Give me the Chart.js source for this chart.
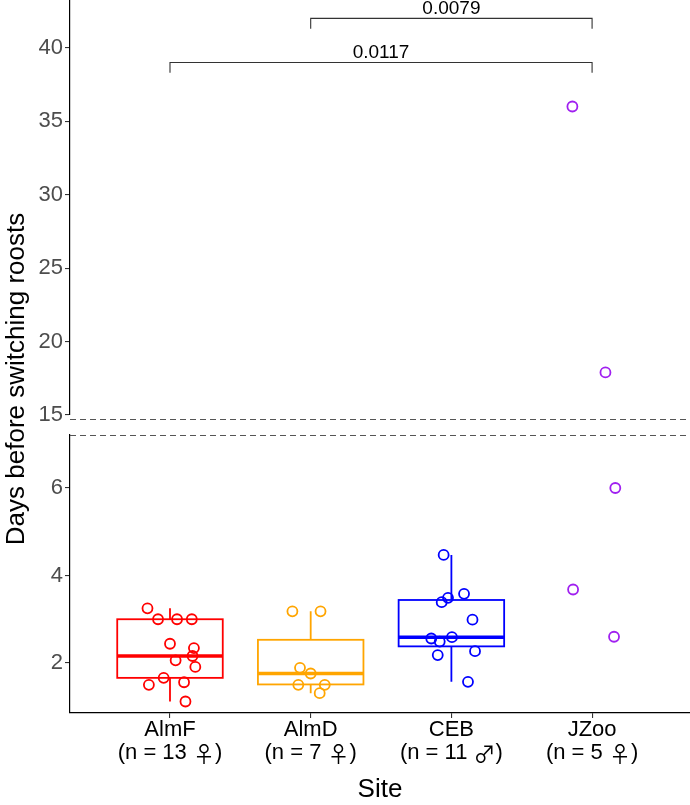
<!DOCTYPE html>
<html>
<head>
<meta charset="utf-8">
<title>Days before switching roosts</title>
<script src="https://cdn.jsdelivr.net/npm/chart.js@4.4.1/dist/chart.umd.min.js"></script>
<style>
  html, body { margin: 0; padding: 0; background: #fff; }
  #wrap { position: relative; width: 690px; height: 805px; }
  #wrap canvas { position: absolute; left: 0; top: 0; }
</style>
</head>
<body>
<div id="wrap">
  <canvas id="lowerPanel" width="690" height="805"></canvas>
  <canvas id="upperPanel" width="690" height="805"></canvas>
</div>
<script>
// ── Data ──────────────────────────────────────────────────────
const sites      = ['AlmF', 'AlmD', 'CEB', 'JZoo'];
const siteN      = [13, 7, 11, 5];
const siteSex    = ['\u2640', '\u2640', '\u2642', '\u2640'];

// days per individual, and the horizontal jitter (category units) seen in the plot
const almfDays   = [3.25, 3.0, 3.0, 3.0, 2.44, 2.34, 2.16, 2.06, 1.91, 1.66, 1.50, 1.56, 1.12];
const almfJitter = [-0.16, -0.085, 0.05, 0.155, 0.0, 0.17, 0.16, 0.04, 0.18, -0.045, -0.15, 0.10, 0.11];
const almdDays   = [3.18, 3.18, 1.89, 1.76, 1.50, 1.50, 1.31];
const almdJitter = [-0.13, 0.07, -0.076, 0.0, -0.088, 0.10, 0.064];
const cebDays    = [4.47, 3.58, 3.49, 3.39, 2.99, 2.59, 2.56, 2.49, 2.27, 2.18, 1.57];
const cebJitter  = [-0.055, 0.09, -0.024, -0.069, 0.15, 0.004, -0.143, -0.083, 0.168, -0.097, 0.118];
const jzooDays   = [36.0, 17.9, 6.0, 3.68, 2.6];
const jzooJitter = [-0.14, 0.095, 0.165, -0.135, 0.156];

// box plot summaries (JZoo has none)
const boxMin    = [1.12, 1.31, 1.57, null];
const boxQ1     = [1.66, 1.51, 2.38, null];
const boxMedian = [2.16, 1.76, 2.59, null];
const boxQ3     = [3.00, 2.53, 3.44, null];
const boxMax    = [3.25, 3.18, 4.47, null];

// pairwise comparisons
const bracketFrom = [1, 0];
const bracketTo   = [3, 3];
const bracketY    = [42, 39];
const bracketP    = ['0.0079', '0.0117'];

// axis ticks
const upperTicks = [15, 20, 25, 30, 35, 40];
const lowerTicks = [2, 4, 6];
const siteTicks  = [0, 1, 2, 3];

// ── Styling ───────────────────────────────────────────────────
const siteColors = ['#FF0000', '#FFA500', '#0000FF', '#A020F0'];
const FONT       = '"Liberation Sans", Arial, Helvetica, sans-serif';
const SYM_FONT   = '"Noto Sans CJK JP", "DejaVu Sans", sans-serif';
const BOX_WIDTH  = 0.75;
const TIP        = 0.7;

const X_RANGE     = { min: -0.7107, max: 3.6959 };
const UPPER_RANGE = { min: 15.0, max: 43.25 };
const LOWER_RANGE = { min: 0.857, max: 7.211 };

function points(days, jitter, idx) {
    return days.map((d, i) => ({ x: idx + jitter[i], y: d }));
}

function buildDatasets() {
    const groups = [
        [almfDays, almfJitter],
        [almdDays, almdJitter],
        [cebDays,  cebJitter],
        [jzooDays, jzooJitter]
    ];
    return groups.map(([days, jit], i) => ({
        label: sites[i],
        data: points(days, jit, i),
        pointStyle: 'circle',
        pointRadius: 5,
        pointBorderWidth: 1.8,
        borderColor: siteColors[i],
        backgroundColor: 'rgba(0,0,0,0)',
        showLine: false,
        clip: 8
    }));
}

function yAxis(range, ticks) {
    return {
        min: range.min,
        max: range.max,
        afterBuildTicks: s => { s.ticks = ticks.map(v => ({ value: v })); },
        afterFit: s => { s.width = 70; s.paddingTop = 0; s.paddingBottom = 0; },
        ticks: { color: '#4D4D4D', font: { family: FONT, size: 22 }, padding: 2 },
        grid: { display: true, drawOnChartArea: false, drawTicks: true, tickLength: 5, color: '#333', lineWidth: 1.1 },
        border: { display: true, color: '#000', width: 1.2 }
    };
}

// ── Plugins ───────────────────────────────────────────────────
const boxPlugin = {
    id: 'boxes',
    beforeDatasetsDraw(chart) {
        const { ctx, scales: { x, y } } = chart;
        ctx.save();
        boxQ1.forEach((q1, i) => {
            if (q1 == null) return;
            const cx    = x.getPixelForValue(i);
            const left  = x.getPixelForValue(i - BOX_WIDTH / 2);
            const right = x.getPixelForValue(i + BOX_WIDTH / 2);
            const yQ1 = y.getPixelForValue(q1);
            const yQ3 = y.getPixelForValue(boxQ3[i]);
            ctx.strokeStyle = siteColors[i];
            ctx.lineWidth = 1.8;
            // whiskers
            ctx.beginPath();
            ctx.moveTo(cx, yQ3); ctx.lineTo(cx, y.getPixelForValue(boxMax[i]));
            ctx.moveTo(cx, yQ1); ctx.lineTo(cx, y.getPixelForValue(boxMin[i]));
            ctx.stroke();
            // box
            ctx.strokeRect(left, yQ3, right - left, yQ1 - yQ3);
            // median
            const yMed = y.getPixelForValue(boxMedian[i]);
            ctx.lineWidth = 3.4;
            ctx.beginPath();
            ctx.moveTo(left, yMed); ctx.lineTo(right, yMed);
            ctx.stroke();
        });
        ctx.restore();
    }
};

// second line of the site labels: "(n = 13 ♀)" with the sex symbol from a thin symbol font
const countPlugin = {
    id: 'siteCounts',
    afterDraw(chart) {
        const { ctx, scales: { x }, chartArea: a } = chart;
        ctx.save();
        ctx.fillStyle = '#000';
        ctx.textBaseline = 'middle';
        ctx.textAlign = 'left';
        const yy = a.bottom + 40;
        siteTicks.forEach(i => {
            const head = '(n = ' + siteN[i] + ' ';
            ctx.font = '22px ' + FONT;
            const wHead = ctx.measureText(head).width;
            const wTail = ctx.measureText(')').width;
            ctx.font = '22px ' + SYM_FONT;
            const wSym = ctx.measureText(siteSex[i]).width;
            let cx = x.getPixelForValue(i) - (wHead + wSym + wTail) / 2;
            ctx.font = '22px ' + FONT;
            ctx.fillText(head, cx, yy);
            cx += wHead;
            ctx.font = '22px ' + SYM_FONT;
            ctx.fillText(siteSex[i], cx, yy + 1);
            cx += wSym;
            ctx.font = '22px ' + FONT;
            ctx.fillText(')', cx, yy);
        });
        ctx.restore();
    }
};

const bracketPlugin = {
    id: 'brackets',
    afterDatasetsDraw(chart) {
        const { ctx, scales: { x, y } } = chart;
        ctx.save();
        ctx.strokeStyle = '#333';
        ctx.lineWidth = 1.1;
        ctx.fillStyle = '#000';
        ctx.font = '19px ' + FONT;
        ctx.textAlign = 'center';
        ctx.textBaseline = 'alphabetic';
        bracketFrom.forEach((from, i) => {
            const x1 = x.getPixelForValue(from);
            const x2 = x.getPixelForValue(bracketTo[i]);
            const yl = y.getPixelForValue(bracketY[i]);
            const yt = y.getPixelForValue(bracketY[i] - TIP);
            ctx.beginPath();
            ctx.moveTo(x1, yt); ctx.lineTo(x1, yl); ctx.lineTo(x2, yl); ctx.lineTo(x2, yt);
            ctx.stroke();
            ctx.fillText(bracketP[i], (x1 + x2) / 2, yl - 4);
        });
        ctx.restore();
    }
};

// dashed break lines + the shared y title
const breakPlugin = {
    id: 'axisBreak',
    afterDraw(chart) {
        const { ctx, chartArea: a } = chart;
        ctx.save();
        ctx.strokeStyle = '#555';
        ctx.lineWidth = 1;
        ctx.setLineDash([6, 4]);
        [a.top - 16, a.top].forEach(yy => {
            ctx.beginPath();
            ctx.moveTo(a.left, yy + 0.5);
            ctx.lineTo(a.right, yy + 0.5);
            ctx.stroke();
        });
        ctx.setLineDash([]);
        ctx.fillStyle = '#000';
        ctx.font = '26px ' + FONT;
        ctx.textAlign = 'center';
        ctx.textBaseline = 'middle';
        ctx.translate(17, 379);
        ctx.rotate(-Math.PI / 2);
        ctx.fillText('Days before switching roosts', 0, 0);
        ctx.restore();
    }
};

// ── Charts ────────────────────────────────────────────────────
new Chart(document.getElementById('lowerPanel'), {
    type: 'scatter',
    data: { datasets: buildDatasets() },
    options: {
        responsive: false,
        animation: false,
        events: [],
        layout: { autoPadding: false, padding: { top: 435, left: 0, right: 0, bottom: 0 } },
        plugins: { legend: { display: false }, tooltip: { enabled: false } },
        scales: {
            x: {
                type: 'linear',
                min: X_RANGE.min,
                max: X_RANGE.max,
                afterBuildTicks: s => { s.ticks = siteTicks.map(v => ({ value: v })); },
                afterFit: s => { s.height = 92; s.paddingLeft = 0; s.paddingRight = 0; },
                ticks: {
                    color: '#000',
                    font: { family: FONT, size: 22, lineHeight: 1.12 },
                    padding: 0,
                    maxRotation: 0,
                    callback: v => sites[v]
                },
                title: { display: true, text: 'Site', color: '#000', font: { family: FONT, size: 26 }, padding: { top: 0, bottom: 0 } },
                grid: { display: true, drawOnChartArea: false, drawTicks: true, tickLength: 5, color: '#333', lineWidth: 1.1 },
                border: { display: true, color: '#000', width: 1.2 }
            },
            y: yAxis(LOWER_RANGE, lowerTicks)
        }
    },
    plugins: [boxPlugin, breakPlugin, countPlugin]
});

new Chart(document.getElementById('upperPanel'), {
    type: 'scatter',
    data: { datasets: buildDatasets() },
    options: {
        responsive: false,
        animation: false,
        events: [],
        layout: { autoPadding: false, padding: { top: 0, left: 0, right: 0, bottom: 390 } },
        plugins: { legend: { display: false }, tooltip: { enabled: false } },
        scales: {
            x: { type: 'linear', display: false, min: X_RANGE.min, max: X_RANGE.max },
            y: yAxis(UPPER_RANGE, upperTicks)
        }
    },
    plugins: [bracketPlugin]
});
</script>
</body>
</html>
